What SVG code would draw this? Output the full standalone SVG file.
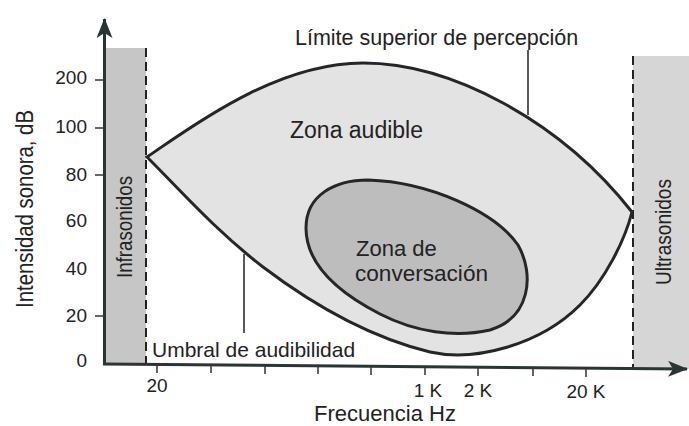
<svg xmlns="http://www.w3.org/2000/svg" width="689" height="426" viewBox="0 0 689 426">
<defs>
<style>
.t{font-family:"Liberation Sans",Arial,sans-serif;fill:#222}
.ax{stroke:#2b3535;stroke-width:3;fill:none}
.tk{stroke:#333;stroke-width:1.5}
.dash{stroke:#222;stroke-width:2;stroke-dasharray:9 5;fill:none}
.ld{stroke:#222;stroke-width:1.5}
.curve{stroke:#262626;stroke-width:3}
</style>
<marker id="arr" viewBox="0 0 20 16" refX="19" refY="8" markerWidth="20" markerHeight="16" markerUnits="userSpaceOnUse" orient="auto">
<path d="M0,0 L20,8 L0,16 L5,8 Z" fill="#2b3535"/>
</marker>
</defs>
<rect width="689" height="426" fill="#fff"/>

<g id="infrasonidos">
<rect x="105" y="48" width="41" height="316" fill="#c6c6c6"/>
<line class="dash" x1="146" y1="48" x2="146" y2="364"/>
<text class="t" transform="translate(132,227) rotate(-90)" text-anchor="middle" font-size="22" textLength="102" lengthAdjust="spacingAndGlyphs">Infrasonidos</text>
</g>

<g id="ultrasonidos">
<rect x="633" y="56" width="56" height="313" fill="#d6d6d6"/>
<line class="dash" x1="633" y1="56" x2="633" y2="369"/>
<text class="t" transform="translate(671,232) rotate(-90)" text-anchor="middle" font-size="22" textLength="106" lengthAdjust="spacingAndGlyphs">Ultrasonidos</text>
</g>

<g id="zona-audible">
<path class="curve" fill="#e3e3e3" d="M147,157 C190,128 275,63 363,63 C450,63 560,120 632,212 C625,240 605,280 580,305 C540,345 475,362 430,352 C360,335 300,295 263,267 C215,230 180,190 147,157 Z"/>
<text class="t" x="290" y="138" font-size="23">Zona audible</text>
</g>

<g id="zona-conversacion">
<path class="curve" fill="#bdbdbd" d="M306,228 C306,195 335,180 368,180 C430,182 495,212 518,245 C535,275 530,318 490,330 C455,338 415,332 380,314 C345,296 306,268 306,228 Z"/>
<text class="t" x="356" y="256" font-size="22">Zona de</text>
<text class="t" x="355" y="281" font-size="22" textLength="133" lengthAdjust="spacingAndGlyphs">conversación</text>
</g>

<g id="limite-superior">
<text class="t" x="295" y="45" font-size="21.5">Límite superior de percepción</text>
</g>

<g id="umbral">
<text class="t" x="152" y="357" font-size="21">Umbral de audibilidad</text>
</g>

<g id="connectors">
<line class="ld" x1="528" y1="50" x2="528" y2="115"/>
<line class="ld" x1="244" y1="254" x2="244" y2="333"/>
</g>

<g id="axes">
<line class="ax" x1="104.5" y1="364" x2="104.5" y2="19" marker-end="url(#arr)"/>
<line class="ax" x1="103" y1="364" x2="687" y2="369" marker-end="url(#arr)"/>
<line class="tk" x1="95" y1="80" x2="104" y2="80"/>
<line class="tk" x1="95" y1="128" x2="104" y2="128"/>
<line class="tk" x1="95" y1="175" x2="104" y2="175"/>
<line class="tk" x1="95" y1="316" x2="104" y2="316"/>
<g class="t" font-size="19" text-anchor="end">
<text x="87" y="84">200</text>
<text x="87" y="133">100</text>
<text x="87" y="181">80</text>
<text x="87" y="227">60</text>
<text x="87" y="275">40</text>
<text x="87" y="322">20</text>
<text x="87" y="367">0</text>
</g>
<g class="tk">
<line x1="157" y1="365" x2="157" y2="373"/>
<line x1="211" y1="365" x2="211" y2="373"/>
<line x1="265" y1="366" x2="265" y2="374"/>
<line x1="318" y1="366" x2="318" y2="374"/>
<line x1="371" y1="367" x2="371" y2="375"/>
<line x1="425" y1="367" x2="425" y2="375"/>
<line x1="478" y1="368" x2="478" y2="376"/>
<line x1="533" y1="368" x2="533" y2="376"/>
<line x1="586" y1="369" x2="586" y2="377"/>
</g>
<g class="t" font-size="19" text-anchor="middle">
<text x="157" y="392">20</text>
<text x="428" y="397">1 K</text>
<text x="478" y="397">2 K</text>
<text x="586" y="398">20 K</text>
</g>
<text class="t" x="385" y="421" font-size="22" text-anchor="middle">Frecuencia Hz</text>
<text class="t" transform="translate(33,209) rotate(-90)" text-anchor="middle" font-size="23" textLength="198" lengthAdjust="spacingAndGlyphs">Intensidad sonora, dB</text>
</g>
</svg>
